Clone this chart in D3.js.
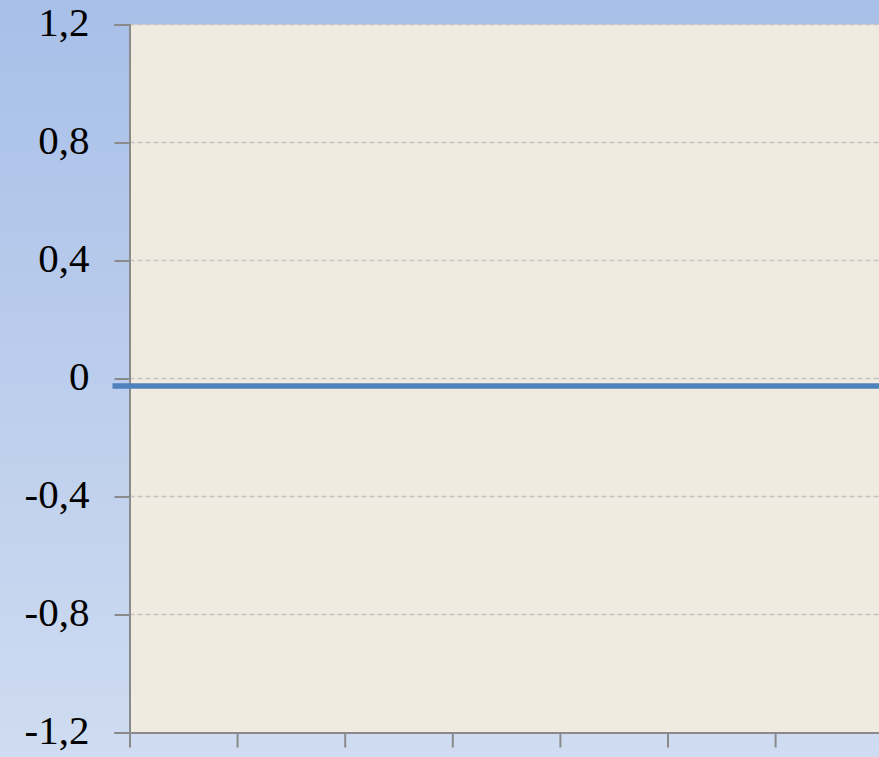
<!DOCTYPE html>
<html>
<head>
<meta charset="utf-8">
<script src="https://cdn.jsdelivr.net/npm/d3@7"></script>
<style>
  html, body { margin: 0; padding: 0; overflow: hidden; }
  svg { display: block; }
</style>
</head>
<body>
<svg id="drawing_region"></svg>
<script>
// categories have no visible labels in the picture
const categories = ['1', '2', '3', '4', '5', '6', '7', '8', '9'];
const series_values = [-0.025, -0.025, -0.025, -0.025, -0.025, -0.025, -0.025, -0.025, -0.025];
const y_ticks = [-1.2, -0.8, -0.4, 0, 0.4, 0.8, 1.2];

const width = 879, height = 757;
const margin = { top: 24.5, left: 129.5, bottom: 24.5 };
const band = 107.6;

const svg = d3.select('#drawing_region')
    .attr('width', width)
    .attr('height', height);

const defs = svg.append('defs');
const grad = defs.append('linearGradient')
    .attr('id', 'bg')
    .attr('x1', 0).attr('y1', 0).attr('x2', 0).attr('y2', 1);
grad.append('stop').attr('offset', '0%').attr('stop-color', '#a8bfe8');
grad.append('stop').attr('offset', '100%').attr('stop-color', '#cfdcf1');

const blur = defs.append('filter')
    .attr('id', 'shadow')
    .attr('x', '-5%').attr('y', '-200%').attr('width', '110%').attr('height', '500%');
blur.append('feGaussianBlur').attr('stdDeviation', 1.6);

svg.append('rect')
    .attr('width', width)
    .attr('height', height)
    .attr('fill', 'url(#bg)');

const yscale = d3.scaleLinear()
    .domain([-1.2, 1.2])
    .range([height - margin.bottom, margin.top]);

const xscale = d3.scaleLinear()
    .domain([0, categories.length])
    .range([margin.left, margin.left + band * categories.length]);

// plot area
svg.append('rect')
    .attr('x', margin.left)
    .attr('y', yscale(1.2))
    .attr('width', xscale(categories.length) - margin.left)
    .attr('height', yscale(-1.2) - yscale(1.2))
    .attr('fill', '#efebe0');

// gridlines
svg.append('g')
    .selectAll('line')
    .data(y_ticks.filter(d => d !== -1.2))
    .join('line')
    .attr('x1', margin.left)
    .attr('x2', xscale(categories.length))
    .attr('y1', d => yscale(d))
    .attr('y2', d => yscale(d))
    .attr('stroke', '#c6c4c0')
    .attr('stroke-width', 1.3)
    .attr('stroke-dasharray', '5,3');

// y axis
const yaxis = d3.axisLeft(yscale)
    .tickValues(y_ticks)
    .tickSize(15)
    .tickPadding(25)
    .tickFormat(d => d === 0 ? '0' : d.toFixed(1).replace('.', ','));

const yg = svg.append('g')
    .attr('transform', `translate(${margin.left}, 0)`)
    .call(yaxis);
yg.select('.domain').attr('stroke', '#8a8a8a').attr('stroke-width', 2);
yg.selectAll('.tick line').attr('stroke', '#8a8a8a').attr('stroke-width', 2);
yg.selectAll('.tick text')
    .attr('fill', '#000')
    .attr('font-family', '"Liberation Serif", "DejaVu Serif", serif')
    .attr('font-size', '41px')
    .attr('dy', '0.27em');

// x axis
const xaxis = d3.axisBottom(xscale)
    .tickValues(d3.range(categories.length + 1))
    .tickSize(15)
    .tickSizeOuter(0)
    .tickFormat('');

const xg = svg.append('g')
    .attr('transform', `translate(0, ${yscale(-1.2)})`)
    .call(xaxis);
xg.select('.domain').attr('stroke', '#8a8a8a').attr('stroke-width', 2);
xg.selectAll('.tick line').attr('stroke', '#8a8a8a').attr('stroke-width', 2);

// series line with soft shadow
const line = d3.line()
    .x((d, i) => xscale(i))
    .y(d => yscale(d));

const series = svg.append('g')
    .attr('transform', 'translate(-17, 0)');

series.append('path')
    .datum(series_values)
    .attr('d', line)
    .attr('fill', 'none')
    .attr('stroke', '#8c8678')
    .attr('stroke-opacity', 0.55)
    .attr('stroke-width', 6)
    .attr('transform', 'translate(1, 5)')
    .attr('filter', 'url(#shadow)');

series.append('path')
    .datum(series_values)
    .attr('d', line)
    .attr('fill', 'none')
    .attr('stroke', '#4f81bd')
    .attr('stroke-width', 5.5);
</script>
</body>
</html>
